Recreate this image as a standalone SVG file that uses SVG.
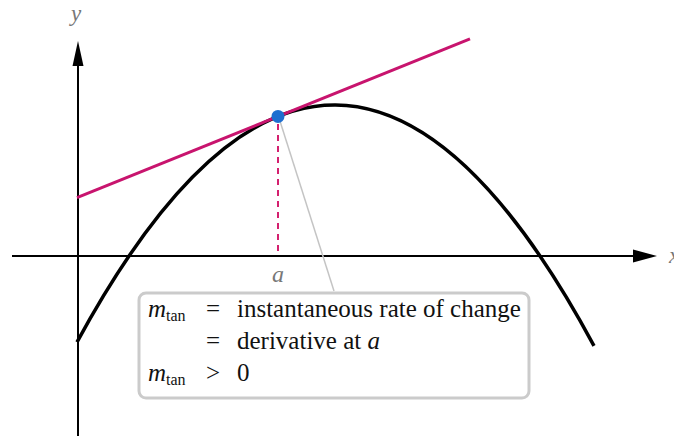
<svg xmlns="http://www.w3.org/2000/svg" width="674" height="436" viewBox="0 0 674 436">
<style>
.axis{stroke:#000;stroke-width:2;fill:none}
.lbl{font-family:"Liberation Serif",serif;font-style:italic;fill:#777}
.t{font-family:"Liberation Serif",serif;font-size:25px;fill:#111}
.i{font-style:italic}
.sub{font-size:16px}
</style>
<rect width="674" height="436" fill="#fff"/>
<g id="axes">
<line class="axis" x1="12" y1="256" x2="640" y2="256"/>
<polygon points="657,256 633,249.5 633,262.5" fill="#000"/>
<line class="axis" x1="78" y1="436" x2="78" y2="58"/>
<polygon points="78,41 72.5,66 83.5,66" fill="#000"/>
<text class="lbl" x="76" y="21" font-size="23" text-anchor="middle">y</text>
<text class="lbl" x="669" y="263" font-size="23">x</text>
</g>
<g id="curve">
<path d="M77,342.1 Q335.5,-134 594,345.8" fill="none" stroke="#000" stroke-width="3.5"/>
</g>
<g id="connectors">
<line x1="77" y1="197.6" x2="470" y2="38.8" stroke="#c8146e" stroke-width="3"/>
<line x1="278" y1="124" x2="278" y2="255" stroke="#d4206f" stroke-width="2" stroke-dasharray="6,5"/>
<line x1="279" y1="118" x2="334" y2="291" stroke="#c4c4c4" stroke-width="1.5"/>
</g>
<g id="point">
<circle cx="278" cy="116.4" r="6.5" fill="#1e6fd0"/>
</g>
<text class="lbl" x="278" y="282" font-size="24" text-anchor="middle">a</text>
<g id="box">
<rect x="139" y="293" width="390" height="105" rx="7" fill="#fff" stroke="#cbcbcb" stroke-width="3"/>
<text class="t" y="317"><tspan class="i" x="148">m</tspan><tspan class="sub" dy="4">tan</tspan></text>
<text class="t" x="206" y="317">=</text>
<text class="t" x="237" y="317">instantaneous rate of change</text>
<text class="t" x="206" y="349">=</text>
<text class="t" x="237" y="349">derivative at <tspan class="i">a</tspan></text>
<text class="t" y="381"><tspan class="i" x="148">m</tspan><tspan class="sub" dy="4">tan</tspan></text>
<text class="t" x="206" y="381">&gt;</text>
<text class="t" x="237" y="381">0</text>
</g>
</svg>
